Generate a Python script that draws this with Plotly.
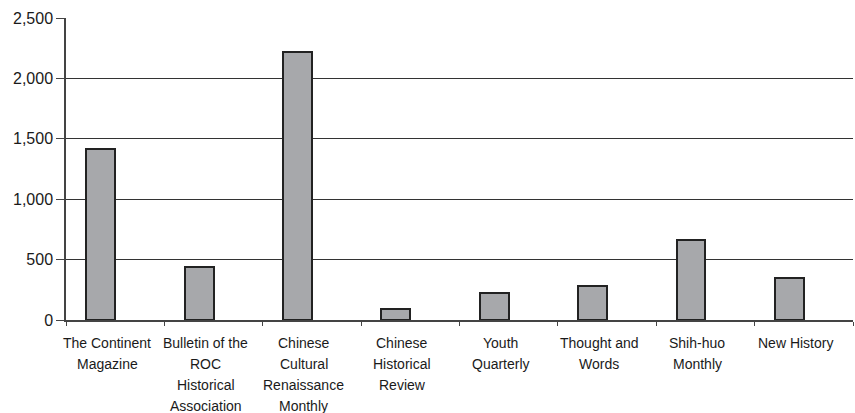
import plotly.graph_objects as go

categories = [
    "The Continent Magazine",
    "Bulletin of the ROC Historical Association",
    "Chinese Cultural Renaissance Monthly",
    "Chinese Historical Review",
    "Youth Quarterly",
    "Thought and Words",
    "Shih-huo Monthly",
    "New History",
]
values = [1415, 440, 2220, 95, 222, 283, 660, 347]
tick_lines = [
    ["The Continent", "Magazine"],
    ["Bulletin of the", "ROC", "Historical", "Association"],
    ["Chinese", "Cultural", "Renaissance", "Monthly"],
    ["Chinese", "Historical", "Review"],
    ["Youth", "Quarterly"],
    ["Thought and", "Words"],
    ["Shih-huo", "Monthly"],
    ["New History"],
]
y_ticks = [0, 500, 1000, 1500, 2000, 2500]

FONT = "Liberation Sans, Arial, sans-serif"

fig = go.Figure()
fig.add_trace(go.Bar(
    x=categories, y=values,
    width=0.294, offset=-0.294,
    marker=dict(color="#a7a8ab", line=dict(color="#222222", width=2)),
    showlegend=False,
))

annotations = []
for cat, lines in zip(categories, tick_lines):
    for i, line in enumerate(lines):
        annotations.append(dict(
            x=cat, xref="x", y=0, yref="paper",
            text=line, showarrow=False,
            xanchor="center", yanchor="middle",
            yshift=-(23 + 21 * i), xshift=-8,
            font=dict(family=FONT, size=14, color="#1a1a1a"),
        ))

fig.update_layout(
    width=855, height=413,
    margin=dict(l=66, r=2, t=18, b=93),
    plot_bgcolor="white", paper_bgcolor="white",
    annotations=annotations,
    xaxis=dict(
        type="category", range=[-0.5, 7.5],
        showticklabels=False, showgrid=False,
        ticks="outside", tickson="boundaries", ticklen=4,
        tickcolor="#444444", tickwidth=1,
        showline=True, linecolor="#444444", linewidth=2,
    ),
    yaxis=dict(
        range=[0, 2500], tickvals=y_ticks, tickformat=",",
        showgrid=True, gridcolor="#333333", gridwidth=1,
        ticks="outside", ticklen=8, tickcolor="#444444", tickwidth=1,
        showline=True, linecolor="#444444", linewidth=1.5,
        zeroline=False,
        tickfont=dict(family=FONT, size=16, color="#1a1a1a"),
    ),
    bargap=0,
)

fig.write_html("out.html")
